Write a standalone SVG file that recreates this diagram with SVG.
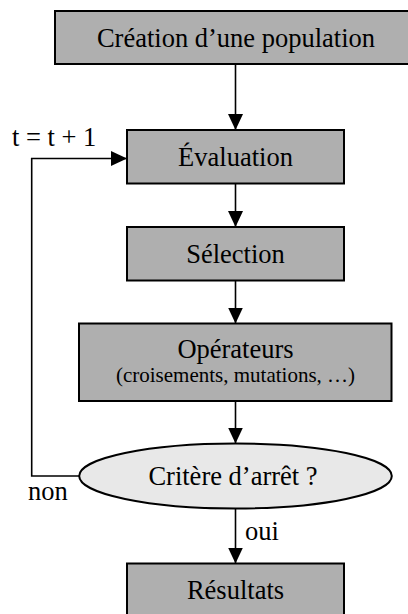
<svg xmlns="http://www.w3.org/2000/svg" width="408" height="614" viewBox="0 0 408 614">
  <style>
    .box { fill: #afafaf; stroke: #000; stroke-width: 2; }
    .ell { fill: #e8e8e8; stroke: #000; stroke-width: 2; }
    .t { font-family: "Liberation Serif", "Times New Roman", serif; font-size: 26.5px; fill: #000; }
    .c { text-anchor: middle; }
    .s { font-size: 21px; }
    .ln { fill: none; stroke: #000; stroke-width: 1.6; }
  </style>
  <defs>
    <marker id="ah" markerUnits="userSpaceOnUse" markerWidth="16" markerHeight="16" viewBox="0 0 16 16" refX="16" refY="8" orient="auto">
      <path d="M0,0.5 L16,8 L0,15.5 Z" fill="#000"/>
    </marker>
  </defs>
  <rect width="408" height="614" fill="#fff"/>
  <g id="creation">
    <rect class="box" x="55" y="11" width="364" height="53"/>
    <text class="t c" x="236" y="46.5">Création d’une population</text>
  </g>
  <g id="evaluation">
    <rect class="box" x="127" y="130" width="217" height="53.5"/>
    <text class="t c" x="235.5" y="166">Évaluation</text>
  </g>
  <g id="selection">
    <rect class="box" x="127" y="227" width="217" height="53.5"/>
    <text class="t c" x="235.5" y="263">Sélection</text>
  </g>
  <g id="operateurs">
    <rect class="box" x="79" y="323.5" width="312.5" height="77.5"/>
    <text class="t c" x="235.5" y="358">Opérateurs</text>
    <text class="t c s" x="235.5" y="381.5">(croisements, mutations, …)</text>
  </g>
  <g id="critere">
    <ellipse class="ell" cx="235.5" cy="476" rx="156.3" ry="32.5"/>
    <text class="t c" x="233" y="485">Critère d’arrêt ?</text>
  </g>
  <g id="resultats">
    <rect class="box" x="127" y="563.5" width="217" height="60"/>
    <text class="t c" x="235.5" y="598.5">Résultats</text>
  </g>
  <g id="connectors">
    <line class="ln" x1="235.5" y1="64" x2="235.5" y2="130" marker-end="url(#ah)"/>
    <line class="ln" x1="235.5" y1="183.5" x2="235.5" y2="227" marker-end="url(#ah)"/>
    <line class="ln" x1="235.5" y1="280.5" x2="235.5" y2="323.5" marker-end="url(#ah)"/>
    <line class="ln" x1="235.5" y1="401" x2="235.5" y2="443.5" marker-end="url(#ah)"/>
    <line class="ln" x1="235.5" y1="508.5" x2="235.5" y2="563.5" marker-end="url(#ah)"/>
    <polyline class="ln" points="79,476 31.7,476 31.7,158.5 127,158.5" marker-end="url(#ah)"/>
    <text class="t" x="12" y="146">t = t + 1</text>
    <text class="t" x="28" y="500">non</text>
    <text class="t" x="245" y="540">oui</text>
  </g>
</svg>
